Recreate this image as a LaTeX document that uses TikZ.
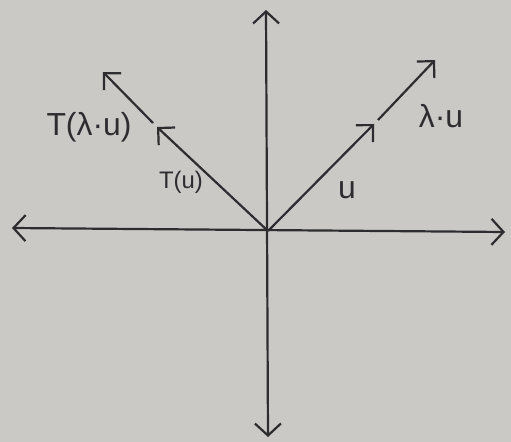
\documentclass[tikz,border=0pt]{standalone}
\usepackage{fontspec}
\setmainfont{Liberation Sans}
\usetikzlibrary{arrows.meta}
\definecolor{paper}{RGB}{203,201,197}
\definecolor{ink}{RGB}{45,45,48}
\begin{document}
\begin{tikzpicture}[x=1bp,y=-1bp,
  axis/.style={draw=ink,line width=2.2bp,{Straight Barb[length=12bp,width=26bp]}-{Straight Barb[length=12bp,width=26bp]}},
  vec/.style={draw=ink,line width=2.2bp,-{Straight Barb[length=12bp,width=24bp]}},
  lbl/.style={text=ink,inner sep=0pt,font=\fontsize{32}{36}\selectfont},
  slbl/.style={text=ink,inner sep=0pt,font=\fontsize{24}{28}\selectfont}]
\fill[paper] (0,0) rectangle (511,442);
\useasboundingbox (0,0) rectangle (511,442);
\coordinate (O) at (268,231);
\coordinate (Xl) at (12,228);
\coordinate (Xr) at (505,232);
\coordinate (Yt) at (266,10);
\coordinate (Yb) at (268,437);
\coordinate (A) at (374,124);
\coordinate (A2) at (378,120);
\coordinate (B) at (435,60);
\coordinate (C) at (157,127);
\coordinate (C2) at (153,123);
\coordinate (D) at (103,72);
\draw[axis] (Xl) -- (Xr);
\draw[axis] (Yt) -- (Yb);
\draw[vec] (O) -- (A);
\draw[vec] (A2) -- (B);
\draw[vec] (O) -- (C);
\draw[vec] (C2) -- (D);
\node[lbl] (lTlu) at (89,127) {T(λ·u)};
\node[slbl] (lTu) at (181,182) {T(u)};
\node[lbl] (lu) at (347,190) {u};
\node[lbl] (llu) at (441,116) {λ·u};
\end{tikzpicture}
\end{document}
